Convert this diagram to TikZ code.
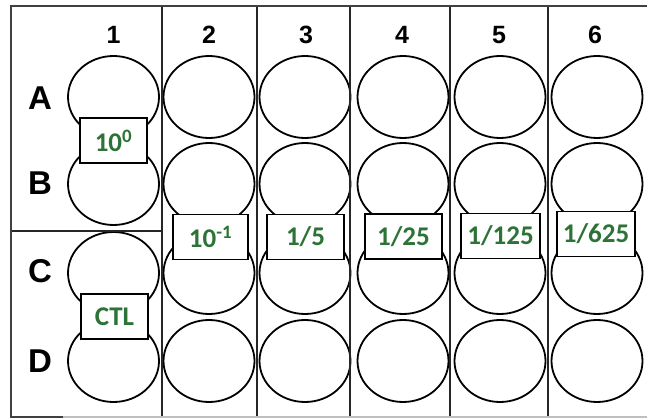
\documentclass[tikz,border=0pt]{standalone}
\usepackage{fontspec}
\setmainfont{Liberation Sans}
\newfontfamily\calib{Carlito}
\usetikzlibrary{shapes.geometric}
\definecolor{lblgreen}{RGB}{45,115,55}
\begin{document}
\begin{tikzpicture}[x=1pt,y=-1pt,
  well/.style={draw=black, line width=1.8pt, ellipse, minimum width=91pt, minimum height=82pt, inner sep=0pt},
  gridline/.style={draw=black!85, line width=1.8pt},
  borderline/.style={draw=black!75, line width=2.6pt},
  collabel/.style={font=\bfseries\fontsize{25}{25}\selectfont, inner sep=0pt},
  rowlabel/.style={font=\bfseries\fontsize{33}{33}\selectfont, inner sep=0pt},
  dilbox/.style={draw=black, line width=1.6pt, fill=white, text=lblgreen, inner sep=0pt,
    font=\calib\bfseries\fontsize{27}{27}\selectfont, minimum height=45pt}
]
\useasboundingbox (0,0) rectangle (647,419);
\fill[white] (0,0) rectangle (647,419);

% wells
\foreach \c/\x in {1/113.5,2/209,3/305,4/403,5/500,6/597}{
  \foreach \r/\y in {A/97,B/184,C/273,D/361}{
    \node[well] (w\r\c) at (\x,\y) {};
  }
}

% grid lines
\foreach \x in {162,257,350,450,548}{
  \draw[gridline] (\x,7) -- (\x,417);
}
\draw[gridline] (11,231) -- (162,231);

% border
\draw[borderline] (647,6) -- (11,6) -- (11,417) -- (63,417);
\draw[draw=black!25, line width=1.2pt] (63,417) -- (647,417);

% column labels
\foreach \c/\x in {1/113.5,2/209,3/306,4/402,5/499,6/595}{
  \node[collabel] (col\c) at (\x,35) {\c};
}
% row labels
\foreach \r/\y in {A/98,B/183,C/271,D/361}{
  \node[rowlabel] (row\r) at (40,\y) {\r};
}

% dilution boxes
\node[dilbox, minimum width=67pt] (d0) at (113.5,140.5) {10\textsuperscript{0}};
\node[dilbox, minimum width=67pt] (ctl) at (114.5,316.5) {CTL};
\node[dilbox, minimum width=75pt] (d1) at (210.5,237) {10\textsuperscript{-1}};
\node[dilbox, minimum width=77pt] (d5) at (305.5,237) {1/5};
\node[dilbox, minimum width=77pt] (d25) at (403.5,236.5) {1/25};
\node[dilbox, minimum width=79pt] (d125) at (500.5,236) {1/125};
\node[dilbox, minimum width=78pt] (d625) at (596,234) {1/625};
\end{tikzpicture}
\end{document}
